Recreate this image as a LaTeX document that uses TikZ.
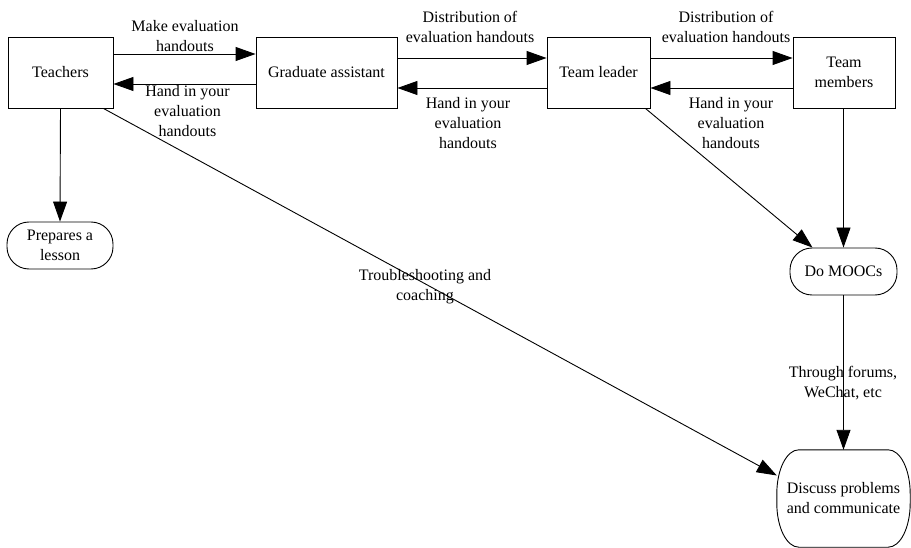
\documentclass[tikz,border=0pt]{standalone}
\usepackage{fontspec}
\setmainfont{Liberation Serif}
\usetikzlibrary{arrows.meta,calc}
\begin{document}
\begin{tikzpicture}[x=1pt,y=-1pt,
  every node/.style={font=\fontsize{16}{20}\selectfont, align=center, inner sep=0pt},
  box/.style={draw, line width=0.9pt, minimum height=71pt},
  term/.style={draw, line width=0.9pt, rounded corners=22pt},
  arr/.style={line width=0.9pt, -{Triangle[length=20pt,width=14pt]}}
]
\useasboundingbox (0,0) rectangle (911,548);
\node[box, minimum width=105pt] (teach) at (60.5,72.5) {Teachers};
\node[box, minimum width=141pt] (ga) at (326.5,72.5) {Graduate assistant};
\node[box, minimum width=103pt] (tl) at (598.5,72.5) {Team leader};
\node[box, minimum width=102pt] (tm) at (844,72.5) {Team\\members};
\node[term, minimum width=106pt, minimum height=47pt] (prep) at (60,245.5) {Prepares a\\lesson};
\node[term, minimum width=107pt, minimum height=47pt] (mooc) at (843.5,271.5) {Do MOOCs};
\node[minimum width=133pt, minimum height=97pt] (disc) at (843.5,498.5) {Discuss problems\\and communicate};
\draw[line width=0.9pt] ([xshift=-22pt]disc.north east)
  arc[start angle=90, end angle=0, x radius=22pt, y radius=44pt]
  -- ([yshift=44pt]disc.south east)
  arc[start angle=0, end angle=-90, x radius=22pt, y radius=44pt]
  -- ([xshift=22pt]disc.south west)
  arc[start angle=-90, end angle=-180, x radius=22pt, y radius=44pt]
  -- ([yshift=-44pt]disc.north west)
  arc[start angle=180, end angle=90, x radius=22pt, y radius=44pt]
  -- cycle;

\draw[arr] ([yshift=18.5pt]teach.east) -- ([yshift=18.5pt]ga.west);
\draw[arr] ([yshift=-11.5pt]ga.west) -- ([yshift=-11.5pt]teach.east);
\draw[arr] ([yshift=14.5pt]ga.east) -- ([yshift=14.5pt]tl.west);
\draw[arr] ([yshift=-15.5pt]tl.west) -- ([yshift=-15.5pt]ga.east);
\draw[arr] ([yshift=14.5pt]tl.east) -- ([yshift=14.5pt]tm.west);
\draw[arr] ([yshift=-15.5pt]tm.west) -- ([yshift=-15.5pt]tl.east);
\draw[arr] (teach.south) -- (prep.north);
\draw[arr] ([xshift=-10pt]teach.south east) -- ([yshift=23pt]disc.west);
\draw[arr] ([xshift=-5pt]tl.south east) -- ([xshift=-31pt]mooc.north);
\draw[arr] ([xshift=-0.5pt]tm.south) -- (mooc.north);
\draw[arr] (mooc.south) -- (disc.north);

\node (l1) at (185,36.5) {Make evaluation\\handouts};
\node (l2) at (187.5,111) {Hand in your\\evaluation\\handouts};
\node (l3) at (470,26.5) {Distribution of\\evaluation handouts};
\node (l4) at (468,123) {Hand in your\\evaluation\\handouts};
\node (l5) at (726,26.5) {Distribution of\\evaluation handouts};
\node (l6) at (731,123) {Hand in your\\evaluation\\handouts};
\node (l7) at (425,287) {Troubleshooting and\\coaching};
\node (l8) at (843,383) {Through forums,\\WeChat, etc};
\end{tikzpicture}
\end{document}
